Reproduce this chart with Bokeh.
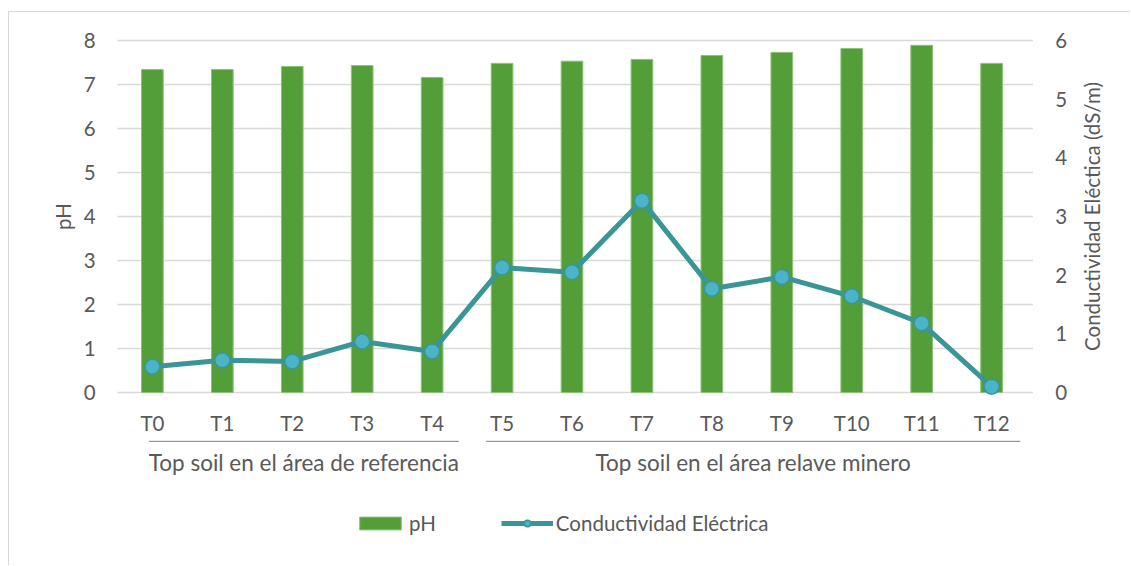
import math

from bokeh.core.properties import value
from bokeh.embed import file_html
from bokeh.models import (ColumnDataSource, FactorRange, Legend, LegendItem, Range1d)
from bokeh.plotting import figure
from bokeh.resources import INLINE

# --- data -------------------------------------------------------------------
categories = ["T0", "T1", "T2", "T3", "T4", "T5", "T6",
              "T7", "T8", "T9", "T10", "T11", "T12"]
ph = [7.34, 7.34, 7.41, 7.43, 7.16, 7.48, 7.53, 7.57, 7.66, 7.73, 7.82, 7.89, 7.48]
conductividad = [0.44, 0.55, 0.53, 0.87, 0.70, 2.13, 2.05, 3.27, 1.77, 1.97, 1.64, 1.18, 0.10]
groups = ["Top soil en el área de referencia", "Top soil en el área relave minero"]
group_first = ["T0", "T5"]
group_last = ["T4", "T12"]
ph_ticks = [0, 1, 2, 3, 4, 5, 6, 7, 8]
ce_ticks = [0, 1, 2, 3, 4, 5, 6]
ph_title = "pH"
ce_title = "Conductividad Eléctica (dS/m)"

# --- style ------------------------------------------------------------------
FONT = "Lato"
FS = "20.5px"
FS_GROUP = "22.5px"
TEXT = "#595959"
GRID = "#d9d9d9"
GREEN = "#549e39"
TEAL = "#3a9696"
MARKER = "#4bb4c8"

# The plotting frame covers the whole chart area, so tick labels, axis titles,
# category/group labels and the legend are all laid out inside it.
PH_MAX, CE_MAX = 8, 6
PX_PER_PH = 44.0
PH_TOP = PH_MAX + 28 / PX_PER_PH          # headroom above the top gridline
PH_BOTTOM = -174 / PX_PER_PH              # space below the baseline
CE_SCALE = CE_MAX / PH_MAX

p = figure(
    width=1122, height=554,
    x_range=FactorRange(*categories, range_padding=1.5, range_padding_units="absolute"),
    y_range=Range1d(PH_BOTTOM, PH_TOP),
    x_axis_location=None, y_axis_location=None,
    output_backend="svg", toolbar_location=None,
    min_border_left=3, min_border_right=0, min_border_top=0, min_border_bottom=0,
)
# thin chart-area border along the top and left edges
p.styles = {
    "margin-left": "8px", "margin-top": "11px",
    "border-left": "1px solid #d9d9d9", "border-top": "1px solid #d9d9d9",
}
p.outline_line_color = None
p.grid.visible = False
p.background_fill_color = "white"
p.border_fill_color = "white"
p.extra_y_ranges = {"ce": Range1d(PH_BOTTOM * CE_SCALE, PH_TOP * CE_SCALE)}

n = len(categories)
# horizontal positions in category units (0 = left edge of the first slot)
X_LEFT_TICKS = -0.31
X_LEFT_TITLE = -0.78
X_RIGHT_TICKS = n + 0.41
X_RIGHT_TITLE = n + 0.94
X_GRID_END = n + 0.09

# gridlines at the pH ticks
p.segment(x0=[0] * len(ph_ticks), x1=[X_GRID_END] * len(ph_ticks),
          y0=ph_ticks, y1=ph_ticks, line_color=GRID, line_width=1.5)

# tick labels
p.text(x=[X_LEFT_TICKS] * len(ph_ticks), y=ph_ticks, text=[str(t) for t in ph_ticks],
       text_font=value(FONT), text_font_size=FS, text_color=TEXT,
       text_align="right", text_baseline="middle")
p.text(x=[X_RIGHT_TICKS] * len(ce_ticks), y=ce_ticks, text=[str(t) for t in ce_ticks],
       y_range_name="ce",
       text_font=value(FONT), text_font_size=FS, text_color=TEXT,
       text_align="left", text_baseline="middle")

# axis titles, centred on their tick spans and read bottom-to-top
p.text(x=[X_LEFT_TITLE], y=[PH_MAX / 2], text=[ph_title], angle=math.pi / 2,
       text_font=value(FONT), text_font_size=FS, text_color=TEXT,
       text_align="center", text_baseline="middle")
p.text(x=[X_RIGHT_TITLE], y=[CE_MAX / 2], text=[ce_title], angle=math.pi / 2,
       y_range_name="ce",
       text_font=value(FONT), text_font_size=FS, text_color=TEXT,
       text_align="center", text_baseline="middle")

# --- series -----------------------------------------------------------------
src = ColumnDataSource(dict(cat=categories, ph=ph, ce=conductividad))

bars = p.vbar(x="cat", top="ph", bottom=0, width=0.31, source=src,
              fill_color=GREEN, line_color="#8cc275", line_width=1)
line = p.line(x="cat", y="ce", y_range_name="ce", source=src,
              line_color=TEAL, line_width=5, line_join="round")
dots = p.scatter(x="cat", y="ce", y_range_name="ce", source=src, size=15,
                 fill_color=MARKER, line_color=TEAL, line_width=1.5)

# category labels under the baseline
p.text(x=categories, y=[-0.70] * n, text=categories,
       text_font=value(FONT), text_font_size=FS, text_color=TEXT,
       text_align="center", text_baseline="middle")

# group underlines and group names
x0 = [categories.index(group_first[0]) + 0.45, categories.index(group_first[1]) + 0.27]
x1 = [categories.index(group_last[0]) + 0.88, categories.index(group_last[1]) + 0.91]
p.segment(x0=x0, x1=x1, y0=[-1.11, -1.11], y1=[-1.11, -1.11],
          line_color="#7f7f7f", line_width=1)
p.text(x=[(a + b) / 2 for a, b in zip(x0, x1)], y=[-1.59, -1.59], text=groups,
       text_font=value(FONT), text_font_size=FS_GROUP, text_color=TEXT,
       text_align="center", text_baseline="middle")

legend = Legend(
    items=[LegendItem(label="pH", renderers=[bars]),
           LegendItem(label="Conductividad Eléctrica", renderers=[line, dots])],
    orientation="horizontal", location=(342, 31),
    border_line_color=None, background_fill_alpha=0,
    label_text_font=FONT, label_text_font_size=FS, label_text_color=TEXT,
    glyph_width=52, glyph_height=16, spacing=65, label_standoff=3,
    margin=0, padding=0,
)
p.add_layout(legend)

open("out.html", "w").write(file_html(p, INLINE))
